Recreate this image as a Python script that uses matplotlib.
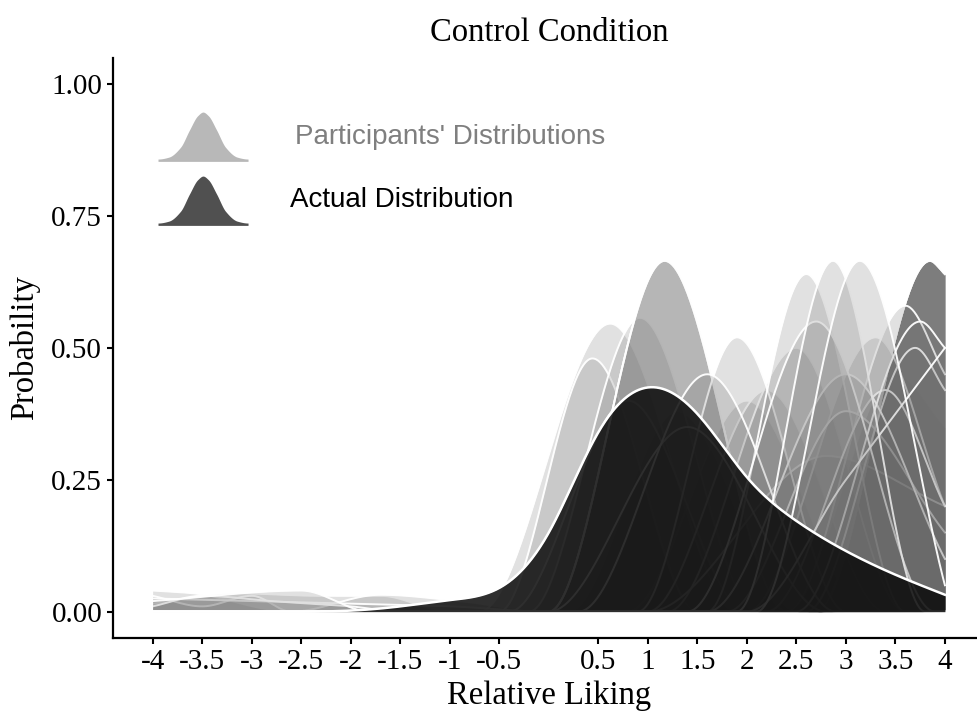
import numpy as np
import matplotlib
matplotlib.use('Agg')
import matplotlib.pyplot as plt

# actual distribution of relative liking
actual_x = [-4, -3.5, -3, -2.5, -2, -1.5, -1, -0.5, 0, 0.5, 1, 1.5, 2, 2.5, 3, 3.5, 4]
actual_y = [0, 0, 0, 0, 0.002, 0.01, 0.022, 0.045, 0.15, 0.34, 0.425, 0.375,
            0.255, 0.172, 0.115, 0.07, 0.032]

# participants' distributions: knots (liking, probability)
a_peak = [(-0.7, 0), (0.62, 0.546), (1.9, 0)]
b_peak = [(0.0, 0), (1.17, 0.665), (2.4, 0)]
c_peak = [(0.9, 0), (1.9, 0.52), (3.0, 0)]
d_peak = [(1.6, 0), (2.6, 0.64), (3.6, 0)]
e_peak = [(1.9, 0), (2.87, 0.665), (3.8, 0)]
f_peak = [(2.1, 0), (3.14, 0.665), (4.0, 0.05)]
g_peak = [(2.7, 0), (3.85, 0.665), (4.0, 0.64)]
b_count = 3
g_count = 9

mid_group = [
    [(-0.5, 0), (0.44, 0.48), (1.5, 0)],
    [(-0.2, 0), (0.92, 0.557), (2.1, 0)],
    [(-0.4, 0), (0.8, 0.40), (2.0, 0)],
    [(0.0, 0), (1.4, 0.35), (2.8, 0)],
    [(0.3, 0), (1.6, 0.45), (2.9, 0)],
]
right_group = [
    [(1.0, 0), (2.2, 0.42), (3.4, 0)],
    [(1.2, 0), (2.5, 0.5), (3.6, 0)],
    [(1.0, 0), (2.8, 0.295), (4.0, 0.2)],
    [(2.0, 0), (3.3, 0.52), (4.0, 0.2)],
    [(2.4, 0), (3.6, 0.58), (4.0, 0.45)],
    [(1.6, 0), (3.0, 0.45), (4.0, 0.1)],
    [(2.5, 0), (3.75, 0.55), (4.0, 0.5)],
    [(1.4, 0), (2.7, 0.55), (3.9, 0)],
    [(2.0, 0), (3.0, 0.25), (4.0, 0.5)],
]
tail_group = [
    [(-4, 0.04), (-3.6, 0.035), (-2.7, 0.002), (-2.2, 0), (0.2, 0), (1.3, 0.38), (2.5, 0)],
    [(-4, 0.015), (-3.2, 0.035), (-2.3, 0.03), (-1.7, 0.03), (-1.0, 0), (0.8, 0), (2.0, 0.4), (3.2, 0)],
    [(-4, 0.03), (-3.5, 0.01), (-3.0, 0.03), (-2.6, 0.0), (-1.7, 0.032), (-0.9, 0.02), (0.0, 0),
     (2.4, 0), (3.5, 0.45), (4.0, 0.35)],
    [(-4, 0.025), (-3.0, 0.02), (-2.0, 0.015), (-1.0, 0.01), (0.0, 0), (1.8, 0), (3.0, 0.38), (4.0, 0.15)],
    [(-4, 0.01), (-3.5, 0.03), (-2.8, 0.02), (-2.0, 0.01), (-1.5, 0), (2.6, 0), (3.7, 0.5), (4.0, 0.42)],
    [(-4, 0.02), (-2.5, 0.04), (-1.8, 0), (2.2, 0), (3.4, 0.42), (4.0, 0.2)],
]

xticks = [-4, -3.5, -3, -2.5, -2, -1.5, -1, -0.5, 0.5, 1, 1.5, 2, 2.5, 3, 3.5, 4]
xtick_labels = ['-4', '-3.5', '-3', '-2.5', '-2', '-1.5', '-1', '-0.5',
                '0.5', '1', '1.5', '2', '2.5', '3', '3.5', '4']
yticks = [0, 0.25, 0.5, 0.75, 1.0]
ytick_labels = ['0.00', '0.25', '0.50', '0.75', '1.00']


def pchip(xk, yk, xs):
    xk = np.asarray(xk, float); yk = np.asarray(yk, float)
    h = np.diff(xk); d = np.diff(yk) / h
    n = len(xk)
    m = np.zeros(n)
    for k in range(1, n - 1):
        if d[k - 1] * d[k] > 0:
            w1 = 2 * h[k] + h[k - 1]; w2 = h[k] + 2 * h[k - 1]
            m[k] = (w1 + w2) / (w1 / d[k - 1] + w2 / d[k])
    if yk[0] != 0: m[0] = d[0]
    if yk[-1] != 0: m[-1] = d[-1]
    out = np.zeros_like(xs)
    ok = (xs >= xk[0]) & (xs <= xk[-1])
    xi = xs[ok]
    i = np.clip(np.searchsorted(xk, xi) - 1, 0, n - 2)
    t = (xi - xk[i]) / h[i]
    out[ok] = ((2*t**3 - 3*t**2 + 1) * yk[i] + (t**3 - 2*t**2 + t) * h[i] * m[i]
               + (-2*t**3 + 3*t**2) * yk[i + 1] + (t**3 - t**2) * h[i] * m[i + 1])
    return np.clip(out, 0, None)


def nat_spline(xk, yk, xs):
    # natural cubic spline, for the smooth actual curve
    xk = np.asarray(xk, float); yk = np.asarray(yk, float)
    n = len(xk); h = np.diff(xk)
    A = np.zeros((n, n)); r = np.zeros(n)
    A[0, 0] = A[-1, -1] = 1
    for k in range(1, n - 1):
        A[k, k - 1] = h[k - 1]; A[k, k] = 2 * (h[k - 1] + h[k]); A[k, k + 1] = h[k]
        r[k] = 6 * ((yk[k + 1] - yk[k]) / h[k] - (yk[k] - yk[k - 1]) / h[k - 1])
    M = np.linalg.solve(A, r)
    i = np.clip(np.searchsorted(xk, xs) - 1, 0, n - 2)
    hh = h[i]; a = xk[i + 1] - xs; b = xs - xk[i]
    s = (M[i] * a**3 + M[i + 1] * b**3) / (6 * hh) \
        + (yk[i] / hh - M[i] * hh / 6) * a + (yk[i + 1] / hh - M[i + 1] * hh / 6) * b
    return np.clip(s, 0, None)


participants = (tail_group[:3] + [a_peak] + mid_group[:3] + [b_peak] * b_count
                + [g_peak] * g_count + right_group[:5] + [c_peak, d_peak]
                + tail_group[3:] + mid_group[3:] + right_group[5:] + [e_peak, f_peak])

xs = np.linspace(-4, 4, 801)

fig = plt.figure(figsize=(9.77, 7.12), dpi=100)
ax = fig.add_axes([0.1157, 0.1039, 0.892, 0.815])

# each participant: translucent area then its white outline, in drawing order
for i, kn in enumerate(participants):
    kx, ky = zip(*kn)
    ys = pchip(kx, ky, xs)
    z = 1 + i * 0.02
    ax.fill_between(xs, 0, ys, color='#6a6a6a', alpha=0.2, lw=0, zorder=z)
    ax.plot(xs, ys, color='white', lw=1.4, alpha=0.95, zorder=z + 0.01)

ya = nat_spline(actual_x, actual_y, xs)
ax.fill_between(xs, 0, ya, color='#0a0a0a', alpha=0.85, lw=0, zorder=5)
ax.plot(xs, ya, color='white', lw=1.8, zorder=6)

ax.set_xlim(-4.4, 4.4)
ax.set_ylim(-0.05, 1.05)
ax.set_xticks(xticks)
ax.set_xticklabels(xtick_labels)
ax.set_yticks(yticks)
ax.set_yticklabels(ytick_labels)
serif = 'Liberation Serif'
for lab in ax.get_xticklabels() + ax.get_yticklabels():
    lab.set_fontfamily(serif); lab.set_fontsize(21)
ax.tick_params(length=4.3, width=1.5, pad=3.5, colors='black')
for s in ['top', 'right']:
    ax.spines[s].set_visible(False)
for s in ['left', 'bottom']:
    ax.spines[s].set_linewidth(1.6)
ax.set_xlabel('Relative Liking', family=serif, fontsize=23.5, labelpad=4)
ax.set_ylabel('Probability', family=serif, fontsize=23.5, labelpad=8)
ax.set_title('Control Condition', family=serif, fontsize=23.5, pad=12)

# legend keys
key_x = [0, 0.12, 0.25, 0.35, 0.44, 0.5, 0.56, 0.65, 0.75, 0.88, 1]
key_y = [0, 0.04, 0.25, 0.62, 0.92, 1, 0.92, 0.62, 0.25, 0.04, 0]
kxs = np.linspace(0, 1, 200)
for ypos, col in [(0.8254, '#b8b8b8'), (0.7151, '#505050')]:
    kax = ax.inset_axes([0.0516, ypos - 0.004, 0.1033, 0.085])
    kax.fill_between(kxs, -0.05, pchip(key_x, key_y, kxs), color=col, lw=0)
    kax.set_xlim(0, 1); kax.set_ylim(-0.05, 1)
    kax.axis('off')
ax.text(0.2088, 0.8633, "Participants' Distributions", transform=ax.transAxes,
        family='Liberation Sans', fontsize=20, color='#7f7f7f', va='center', ha='left')
ax.text(0.2031, 0.7548, 'Actual Distribution', transform=ax.transAxes,
        family='Liberation Sans', fontsize=20, color='black', va='center', ha='left')

fig.savefig('out.png', dpi=100)
